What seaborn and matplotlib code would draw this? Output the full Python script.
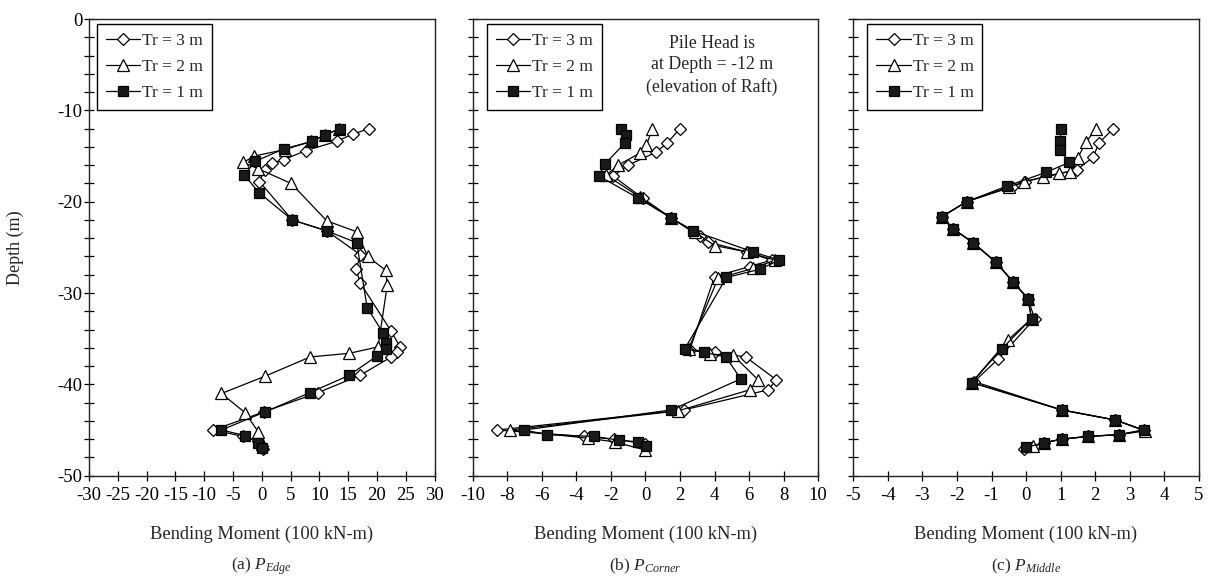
import matplotlib
matplotlib.use("Agg")
import matplotlib.pyplot as plt
import seaborn as sns
from matplotlib.ticker import MultipleLocator
from matplotlib.lines import Line2D

# ---------------- data ----------------
series_labels = ["Tr = 3 m", "Tr = 2 m", "Tr = 1 m"]

# Panel (a) P_Edge
edge_tr3_x = [18.7, 15.8, 13.0, 7.7, 3.8, 1.7, 0.5, -0.4, 5.3, 11.3, 17.1, 16.4, 17.1, 22.5, 24.0, 23.5, 22.5, 17.1, 9.8, 0.4, -8.4, -3.2, -0.6, 0.0, 0.2]
edge_tr3_y = [-12.0, -12.6, -13.4, -14.4, -15.4, -15.8, -16.5, -17.8, -22.0, -23.2, -25.8, -27.4, -28.9, -34.2, -35.9, -36.5, -37.0, -39.0, -40.9, -43.0, -45.0, -45.7, -46.2, -46.8, -47.1]
edge_tr2_x = [13.5, 11.0, 8.6, 4.0, -1.3, -3.2, -0.6, 5.1, 11.3, 16.5, 18.4, 21.5, 21.8, 20.2, 15.2, 8.4, 0.6, -7.0, -2.9, -0.6, 0.0]
edge_tr2_y = [-12.0, -12.7, -13.4, -14.3, -15.0, -15.7, -16.4, -18.0, -22.1, -23.3, -26.0, -27.5, -29.1, -35.9, -36.6, -37.0, -39.1, -41.0, -43.1, -45.2, -46.5]
edge_tr1_x = [13.6, 11.0, 8.8, 3.9, -1.2, -3.0, -0.5, 5.3, 11.3, 16.5, 18.3, 21.1, 21.6, 21.5, 20.0, 15.2, 8.4, 0.6, -7.0, -2.9, -0.6, 0.0]
edge_tr1_y = [-12.0, -12.7, -13.4, -14.2, -15.6, -17.1, -19.0, -22.0, -23.2, -24.5, -31.6, -34.4, -35.5, -36.1, -36.9, -39.0, -40.9, -43.0, -45.0, -45.6, -46.4, -47.0]

# Panel (b) P_Corner
corner_tr3_x = [1.99, 1.25, 0.6, -1.0, -1.87, -0.17, 1.5, 3.14, 3.6, 5.85, 7.3, 6.04, 4.0, 2.57, 4.0, 5.8, 7.58, 7.1, 2.22, -8.59, -3.57, -1.84, -0.04]
corner_tr3_y = [-12.0, -13.6, -14.6, -16.0, -17.2, -19.6, -21.8, -23.8, -24.4, -25.5, -26.4, -27.1, -28.2, -36.2, -36.5, -37.0, -39.5, -40.6, -42.8, -45.0, -45.7, -46.0, -46.5]
corner_tr2_x = [0.4, 0.06, -0.33, -1.59, -2.26, -0.33, 1.5, 2.85, 4.0, 5.85, 7.5, 6.23, 4.2, 2.5, 3.72, 5.07, 6.52, 6.04, 1.89, -7.82, -3.3, -1.78, 0.0]
corner_tr2_y = [-12.0, -13.8, -14.7, -16.0, -17.1, -19.5, -21.8, -23.3, -24.8, -25.5, -26.4, -27.3, -28.4, -36.1, -36.7, -36.8, -39.5, -40.6, -42.9, -45.0, -45.9, -46.3, -47.2]
corner_tr1_x = [-1.39, -1.1, -1.2, -2.36, -2.69, -0.43, 1.5, 2.76, 6.23, 7.74, 6.62, 4.69, 2.28, 3.39, 4.65, 5.52, 1.5, -7.03, -5.7, -3.0, -1.53, -0.43, 0.05]
corner_tr1_y = [-12.0, -12.7, -13.6, -15.9, -17.2, -19.6, -21.8, -23.2, -25.5, -26.4, -27.4, -28.3, -36.1, -36.5, -37.0, -39.4, -42.8, -45.0, -45.5, -45.7, -46.1, -46.3, -46.8]

# Panel (c) P_Middle
middle_tr3_x = [2.53, 2.1, 1.95, 1.47, -0.03, -0.42, -1.72, -2.44, -2.1, -1.53, -0.88, -0.37, 0.05, 0.25, -0.8, -1.5, 1.03, 2.58, 3.4, 2.7, 1.8, 1.03, 0.52, -0.05]
middle_tr3_y = [-12.0, -13.6, -15.1, -16.5, -17.8, -18.4, -20.0, -21.65, -23.0, -24.5, -26.6, -28.8, -30.6, -32.8, -37.2, -39.7, -42.8, -43.9, -45.0, -45.5, -45.7, -46.0, -46.4, -47.1]
middle_tr2_x = [2.03, 1.73, 1.5, 1.28, 0.94, 0.5, -0.05, -0.5, -1.72, -2.44, -2.1, -1.53, -0.88, -0.37, 0.05, 0.16, -0.51, -1.57, 1.03, 2.58, 3.45, 2.7, 1.8, 1.03, 0.52, 0.2]
middle_tr2_y = [-12.0, -13.5, -15.2, -16.7, -16.9, -17.3, -17.8, -18.4, -20.0, -21.65, -23.0, -24.5, -26.6, -28.8, -30.6, -32.8, -35.1, -39.8, -42.8, -43.9, -45.1, -45.5, -45.7, -46.0, -46.4, -46.8]
middle_tr1_x = [1.01, 0.99, 0.99, 1.25, 0.57, -0.56, -1.72, -2.44, -2.1, -1.53, -0.88, -0.37, 0.05, 0.16, -0.7, -1.57, 1.03, 2.58, 3.4, 2.7, 1.8, 1.03, 0.52, 0.0]
middle_tr1_y = [-12.0, -13.4, -14.3, -15.7, -16.8, -18.3, -20.0, -21.65, -23.0, -24.5, -26.6, -28.8, -30.6, -32.8, -36.1, -39.8, -42.8, -43.9, -45.0, -45.5, -45.7, -46.0, -46.4, -46.9]

x_limits = [(-30, 30), (-10, 10), (-5, 5)]
x_steps = [5, 2, 1]
captions_prefix = ["(a) ", "(b) ", "(c) "]
captions_sub = ["Edge", "Corner", "Middle"]
x_label_text = "Bending Moment (100 kN-m)"
y_label_text = "Depth (m)"
note_text = "Pile Head is\nat Depth = -12 m\n(elevation of Raft)"

panels = [
    [(edge_tr3_x, edge_tr3_y), (edge_tr2_x, edge_tr2_y), (edge_tr1_x, edge_tr1_y)],
    [(corner_tr3_x, corner_tr3_y), (corner_tr2_x, corner_tr2_y), (corner_tr1_x, corner_tr1_y)],
    [(middle_tr3_x, middle_tr3_y), (middle_tr2_x, middle_tr2_y), (middle_tr1_x, middle_tr1_y)],
]

# ---------------- style ----------------
sns.set_style("ticks")
plt.rcParams["font.family"] = ["Liberation Serif", "DejaVu Serif"]
plt.rcParams["mathtext.fontset"] = "custom"
plt.rcParams["mathtext.rm"] = "Liberation Serif"
plt.rcParams["mathtext.it"] = "Liberation Serif:italic"
plt.rcParams["axes.unicode_minus"] = False

styles = [
    dict(marker="D", markersize=6.6, markerfacecolor="white"),
    dict(marker="^", markersize=8.6, markerfacecolor="white"),
    dict(marker="s", markersize=6.8, markerfacecolor="#1a1a1a"),
]

W, H = 1214, 579
fig = plt.figure(figsize=(W / 100, H / 100), dpi=100)
fig.patch.set_facecolor("white")

lefts_px = [89, 472.7, 853.3]
ax_w_px = 345.5
top_px, bot_px = 19, 475.7
legend_dx = [0.023, 0.041, 0.041]

for i, ax_left in enumerate(lefts_px):
    ax = fig.add_axes([ax_left / W, (H - bot_px) / H, ax_w_px / W, (bot_px - top_px) / H])
    for (xs, ys), lab, st in zip(panels[i], series_labels, styles):
        sns.lineplot(x=xs, y=ys, sort=False, estimator=None, ax=ax, color="black",
                     linewidth=0.9, markeredgecolor="black", markeredgewidth=0.9,
                     label=lab, legend=False, **st)
    ax.set_xlim(*x_limits[i])
    ax.set_ylim(-50, 0)
    ax.xaxis.set_major_locator(MultipleLocator(x_steps[i]))
    ax.yaxis.set_major_locator(MultipleLocator(10))
    ax.yaxis.set_minor_locator(MultipleLocator(2))
    ax.tick_params(which="both", direction="inout", length=6.5, width=0.9,
                   top=False, right=False, labelsize=13.5, pad=1.5, colors="black")
    ax.tick_params(axis="x", pad=5)
    if i > 0:
        ax.tick_params(labelleft=False)
    for sp in ax.spines.values():
        sp.set_visible(True)
        sp.set_linewidth(1.0)
        sp.set_color("#222222")
    ax.set_xlabel("")
    ax.set_ylabel("")
    ax.text(0.5, -0.128, x_label_text, transform=ax.transAxes, ha="center", va="center", fontsize=13.3)
    ax.text(0.5, -0.199, captions_prefix[i] + r"$P_{" + captions_sub[i] + r"}$",
            transform=ax.transAxes, ha="center", va="center", fontsize=12.5)
    if i == 0:
        ax.text(-0.214, 0.5, y_label_text, transform=ax.transAxes, ha="center", va="center",
                rotation=90, fontsize=13)
    handles = [Line2D([], [], color="black", linewidth=0.9, markeredgecolor="black",
                      markeredgewidth=0.9, **st) for st in styles]
    leg = ax.legend(handles, series_labels, loc="upper left",
                    bbox_to_anchor=(legend_dx[i], 0.989), borderaxespad=0,
                    fontsize=12.5, frameon=True, fancybox=False, framealpha=1,
                    edgecolor="black", handlelength=2.0, handletextpad=0.1,
                    labelspacing=0.58, borderpad=0.5)
    leg.get_frame().set_linewidth(1.0)
    if i == 1:
        ax.text(0.693, 0.898, note_text, transform=ax.transAxes, ha="center", va="center",
                fontsize=12.8, linespacing=1.35)

fig.savefig("out.png", dpi=100)
